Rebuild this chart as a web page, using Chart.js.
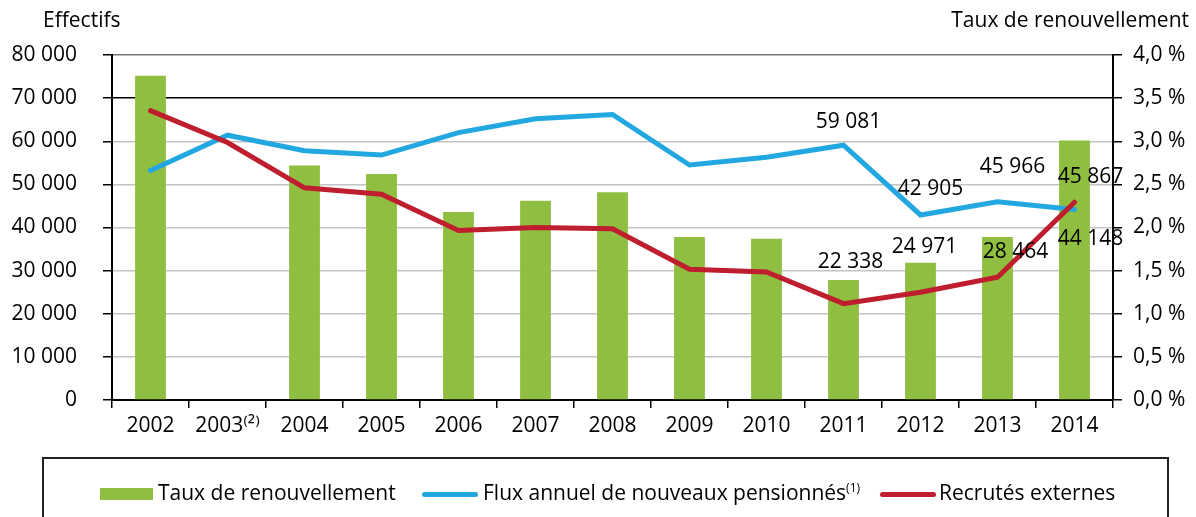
<!DOCTYPE html>
<html lang="fr">
<head>
<meta charset="UTF-8">
<title>Taux de renouvellement</title>
<script src="https://cdn.jsdelivr.net/npm/chart.js@4.4.1/dist/chart.umd.min.js"></script>
<style>
  * { box-sizing: border-box; }
  html, body { margin: 0; padding: 0; background: #fff; }
  body { width: 1196px; height: 517px; position: relative; overflow: hidden;
         font-family: "Open Sans", "DejaVu Sans", sans-serif; color: #000; }
  #chart { position: absolute; left: 0; top: 0; }
  .t { position: absolute; font-size: 21px; line-height: 21px; white-space: nowrap; }
  .legend-box { position: absolute; left: 42px; top: 457px; width: 1127px; height: 100px; border: 2px solid #222; }
  .swatch { position: absolute; }
  sup { font-size: 12px; line-height: 0; vertical-align: 8px; }
</style>
</head>
<body>
  <canvas id="chart" width="1196" height="517"></canvas>
  <div class="t" style="left:43px; top:9px;">Effectifs</div>
  <div class="t" style="right:7px; top:9px;">Taux de renouvellement</div>

  <div class="legend-box"></div>
  <div class="swatch" style="left:100px; top:488px; width:53px; height:12px; background:#8fbe40;"></div>
  <div class="t" style="left:158px; top:482px;">Taux de renouvellement</div>
  <div class="swatch" style="left:422px; top:491.5px; width:56px; height:5px; border-radius:3px; background:#22a7e0;"></div>
  <div class="t" style="left:483px; top:482px;">Flux annuel de nouveaux pensionnés<sup>(1)</sup></div>
  <div class="swatch" style="left:880px; top:491.5px; width:56px; height:5px; border-radius:3px; background:#be1e2d;"></div>
  <div class="t" style="left:939px; top:482px;">Recrutés externes</div>

<script>
const years = ['2002', '2003⁽²⁾', '2004', '2005', '2006', '2007', '2008', '2009', '2010', '2011', '2012', '2013', '2014']

// taux de renouvellement, en % (axe de droite) ; pas de valeur pour 2003
const tauxRenouvellement = [3.76, null, 2.72, 2.62, 2.18, 2.31, 2.41, 1.89, 1.87, 1.39, 1.59, 1.89, 3.01]
// effectifs (axe de gauche)
const fluxPensionnes = [53200, 61400, 57800, 56800, 62000, 65200, 66200, 54500, 56300, 59081, 42905, 45966, 44148]
const recrutesExternes = [67100, 59700, 49200, 47700, 39300, 40000, 39700, 30300, 29700, 22338, 24971, 28464, 45867]

const effectifsMax = 80000
const effectifsStep = 10000
const tauxMax = 4
const tauxStep = 0.5

// années annotées de chaque courbe
const fluxLabelled = ['2011', '2012', '2013', '2014']
const recrutesLabelled = ['2011', '2012', '2013', '2014']

const GREEN = '#8fbe40'
const BLUE = '#22a7e0'
const RED = '#be1e2d'
const TEXT = '#000'

const fmtEffectif = v => String(Math.round(v)).replace(/\B(?=(\d{3})+(?!\d))/g, ' ')
const fmtTaux = v => v.toFixed(1).replace('.', ',') + ' %'

// décalage des étiquettes par rapport au point (dx, dy jusqu'à la ligne de base)
const labelOffsets = {
    flux: { '2011': [5, -17], '2012': [10, -20], '2013': [15, -29], '2014': [16, 35] },
    recrutes: { '2011': [7, -36], '2012': [4, -39], '2013': [18, -19], '2014': [16, -19] },
}

const valueLabels = {
    id: 'valueLabels',
    afterDatasetsDraw(chart) {
        const ctx = chart.ctx
        ctx.save()
        ctx.font = '21px "Open Sans", "DejaVu Sans", sans-serif'
        ctx.fillStyle = TEXT
        ctx.textAlign = 'center'
        ctx.textBaseline = 'alphabetic'
        const groups = [
            { ds: 1, years: fluxLabelled, values: fluxPensionnes, off: labelOffsets.flux },
            { ds: 0, years: recrutesLabelled, values: recrutesExternes, off: labelOffsets.recrutes },
        ]
        groups.forEach(g => {
            const meta = chart.getDatasetMeta(g.ds)
            g.years.forEach(y => {
                const i = years.indexOf(y)
                const el = meta.data[i]
                const [dx, dy] = g.off[y]
                ctx.fillText(fmtEffectif(g.values[i]), el.x + dx, el.y + dy)
            })
        })
        ctx.restore()
    }
}

Chart.defaults.font.family = '"Open Sans", "DejaVu Sans", sans-serif'
Chart.defaults.font.size = 21
Chart.defaults.color = TEXT

new Chart(document.getElementById('chart'), {
    type: 'bar',
    data: {
        labels: years,
        datasets: [
            {
                type: 'line', label: 'Recrutés externes', data: recrutesExternes, yAxisID: 'y', order: 1,
                borderColor: RED, borderWidth: 5, pointRadius: 0, fill: false, tension: 0,
                borderCapStyle: 'round', borderJoinStyle: 'miter',
            },
            {
                type: 'line', label: 'Flux annuel de nouveaux pensionnés', data: fluxPensionnes, yAxisID: 'y', order: 2,
                borderColor: BLUE, borderWidth: 5, pointRadius: 0, fill: false, tension: 0,
                borderCapStyle: 'round', borderJoinStyle: 'miter',
            },
            {
                type: 'bar', label: 'Taux de renouvellement', data: tauxRenouvellement, yAxisID: 'y2', order: 3,
                backgroundColor: GREEN, borderWidth: 0, barPercentage: 0.4, categoryPercentage: 1.0,
            },
        ]
    },
    options: {
        responsive: false,
        animation: false,
        devicePixelRatio: 1,
        layout: { padding: { top: 55, left: 0, right: 0, bottom: 0 } },
        plugins: { legend: { display: false }, tooltip: { enabled: false } },
        scales: {
            x: {
                offset: true,
                grid: { offset: true, drawOnChartArea: false, color: '#000', lineWidth: 1.5, tickLength: 8 },
                border: { color: '#000', width: 2 },
                ticks: { padding: 5, maxRotation: 0, autoSkip: false },
                afterFit: s => { s.height = 117 },
            },
            y: {
                position: 'left', min: 0, max: effectifsMax,
                ticks: { stepSize: effectifsStep, padding: 26, callback: v => fmtEffectif(v) },
                grid: {
                    color: c => c.tick && c.tick.value === 80000 ? '#777' : (c.tick && c.tick.value === 70000 ? '#000' : '#c4c4c4'),
                    lineWidth: 1.5, tickColor: '#000', tickLength: 9,
                },
                border: { color: '#000', width: 2 },
                afterFit: s => { s.width = 112 },
            },
            y2: {
                position: 'right', min: 0, max: tauxMax,
                ticks: { stepSize: tauxStep, padding: 11, callback: v => fmtTaux(v) },
                grid: { drawOnChartArea: false, color: '#000', lineWidth: 1.5, tickLength: 9 },
                border: { color: '#000', width: 2 },
                afterFit: s => { s.width = 83 },
            },
        }
    },
    plugins: [valueLabels]
})
</script>
</body>
</html>
